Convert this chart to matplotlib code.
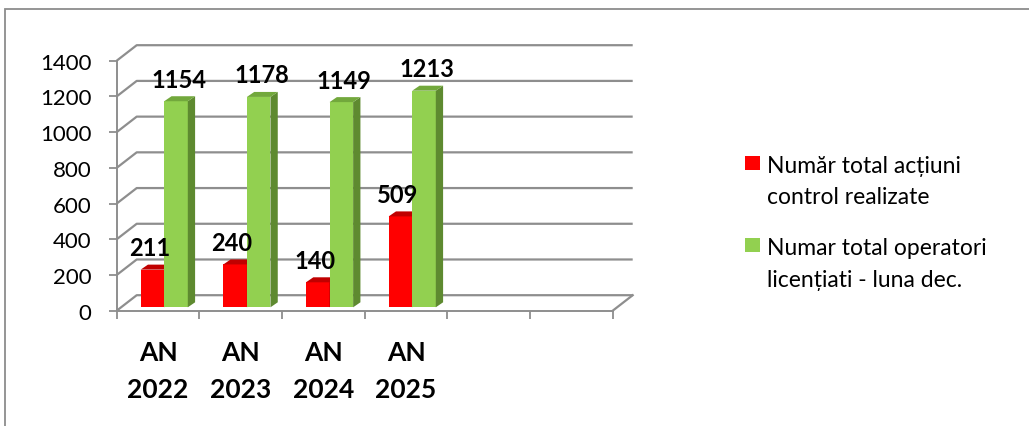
import matplotlib
matplotlib.use("Agg")
import matplotlib.pyplot as plt
from matplotlib.patches import Polygon, Rectangle
import numpy as np

# ---- data ----
categories = ["AN\n2022", "AN\n2023", "AN\n2024", "AN\n2025"]
series_names = ["Număr total acțiuni\ncontrol realizate",
                "Numar total operatori\nlicențiati - luna dec."]
actiuni_control = [211, 240, 140, 509]
operatori_licentiati = [1154, 1178, 1149, 1213]
y_ticks = [0, 200, 400, 600, 800, 1000, 1200, 1400]

# ---- style ----
plt.rcParams['font.family'] = ['Lato', 'DejaVu Sans']
W, H = 1029, 427
DPI = 100
n_slots = 6
front_colors = ["#FF0000", "#92D050"]
top_colors = ["#C00000", "#72A83C"]
side_colors = ["#A00000", "#5E8A30"]
grid_col = "#8E8E8E"

fig = plt.figure(figsize=(W / DPI, H / DPI), dpi=DPI)
# axes placed in pixel terms
x0_px, x1_px = 116.7, 612.7
y0_px, y1_px = 311.7, 61.7
ax = fig.add_axes([x0_px / W, 1 - y0_px / H, (x1_px - x0_px) / W, (y0_px - y1_px) / H])
ax.set_xlim(0, n_slots)
ax.set_ylim(0, 1400)
ax.patch.set_visible(False)

# depth of the back wall (data units)
px_per_x = (x1_px - x0_px) / n_slots
px_per_v = (y0_px - y1_px) / 1400
wall_dx = 20 / px_per_x
wall_dv = 15.5 / px_per_v

# back wall gridlines with diagonals
for v in y_ticks:
    ax.plot([0, wall_dx, n_slots + wall_dx], [v, v + wall_dv, v + wall_dv],
            color=grid_col, lw=1.6, clip_on=False, zorder=1, solid_capstyle='butt')
# floor right edge
ax.plot([n_slots, n_slots + wall_dx], [0, wall_dv], color=grid_col, lw=1.6,
        clip_on=False, zorder=1)

# bars (front faces via ax.bar, with 3D side/top faces)
bar_w = 0.285
bar_left0 = 0.29
bar_base = 3.4 / px_per_v
dxs = 7.3 / px_per_x
dvs = 5.0 / px_per_v
idx = np.arange(len(categories))
label_dx = [-3, 3]
for s, vals in enumerate([actiuni_control, operatori_licentiati]):
    lefts = idx + bar_left0 + s * bar_w
    bars = ax.bar(lefts, vals, width=bar_w, bottom=bar_base, align='edge',
                  color=front_colors[s], edgecolor='none', zorder=3 + s * 2)
    for b, val in zip(bars, vals):
        xl = b.get_x()
        xr = xl + b.get_width()
        top = b.get_y() + b.get_height()
        side = Polygon([[xr, bar_base], [xr + dxs, bar_base + dvs], [xr + dxs, top + dvs], [xr, top]],
                       closed=True, facecolor=side_colors[s], edgecolor='none', zorder=3 + s * 2)
        topf = Polygon([[xl, top], [xl + dxs, top + dvs], [xr + dxs, top + dvs], [xr, top]],
                       closed=True, facecolor=top_colors[s], edgecolor='none', zorder=3 + s * 2)
        ax.add_patch(side)
        ax.add_patch(topf)
        ax.annotate(f"{val}", xy=(xl + b.get_width() / 2, top), xytext=(label_dx[s], 22),
                    textcoords='offset pixels', ha='center', va='center',
                    fontsize=17, fontweight='bold', color='black', zorder=10,
                    annotation_clip=False)

# spines / ticks
for sp in ['top', 'right']:
    ax.spines[sp].set_visible(False)
for sp in ['left', 'bottom']:
    ax.spines[sp].set_color(grid_col)
    ax.spines[sp].set_linewidth(1.4)
    ax.spines[sp].set_zorder(2)
ax.set_yticks(y_ticks)
ax.set_yticklabels([str(t) for t in y_ticks])
ax.tick_params(axis='y', length=5.5, width=1.3, color=grid_col, pad=12.5, labelsize=16)
ax.set_xticks(np.arange(n_slots + 1))
ax.set_xticklabels([])
ax.tick_params(axis='x', which='major', length=6, width=1.3, color=grid_col)
ax.set_xticks(idx + 0.5, minor=True)
ax.set_xticklabels(categories, minor=True, fontsize=19, fontweight='bold', linespacing=1.65)
ax.tick_params(axis='x', which='minor', length=0, pad=21)

# legend (manual so the marker sits on the first line)
leg_x = 745 / W
leg_tops = [156.5, 239]
for s in range(2):
    fig.patches.append(Rectangle((leg_x, 1 - (leg_tops[s] + 14) / H), 15 / W, 14 / H,
                                 transform=fig.transFigure, facecolor=front_colors[s],
                                 edgecolor='none'))
    fig.text(767 / W, 1 - (leg_tops[s] - 0.5) / H, series_names[s], ha='left', va='top',
             fontsize=16.5, linespacing=1.6, color='black')

# outer frame
fig.patches.append(Rectangle((5 / W, -0.1), 1.2, 1 - 9.5 / H + 0.1, transform=fig.transFigure,
                             facecolor='none', edgecolor='#8C8C8C', linewidth=1.3))

fig.savefig("out.png", dpi=DPI)
